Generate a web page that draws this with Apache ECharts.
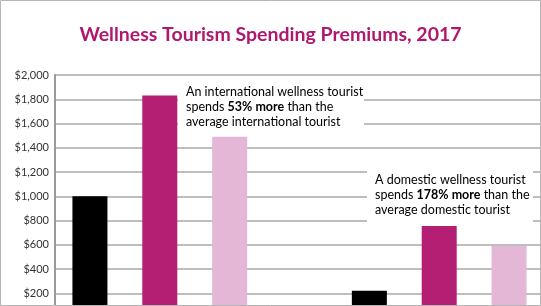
<!DOCTYPE html>
<html>
<head>
<meta charset="utf-8">
<script src="https://cdn.jsdelivr.net/npm/echarts@6/dist/echarts.min.js"></script>
<style>
html,body{margin:0;padding:0;background:#fff;}
#main{width:541px;height:306px;}
</style>
</head>
<body>
<div id="main"></div>
<script>
// Slots along the x axis (an empty slot separates the two groups)
const categories = ['Intl average', 'Intl wellness A', 'Intl wellness B', '', 'Domestic average', 'Domestic wellness A', 'Domestic wellness B'];
const averageTourist   = [1000, '-', '-', '-', 220, '-', '-'];
const wellnessTouristA = ['-', 1830, '-', '-', '-', 780, '-'];
const wellnessTouristB = ['-', '-', 1490, '-', '-', '-', 590];
const yTicks = [0, 200, 400, 600, 800, 1000, 1200, 1400, 1600, 1800, 2000];
const titleText = 'Wellness Tourism Spending Premiums, 2017';
const note1 = ['An international wellness tourist', ['spends ', '53% more', ' than the'], 'average international tourist'];
const note2 = ['A domestic wellness tourist', ['spends ', '178% more', ' than the'], 'average domestic tourist'];

const FONT = 'Lato';
function noteText(n) {
  return '{r|' + n[0] + '}\n{r|' + n[1][0] + '}{b|' + n[1][1] + '}{r|' + n[1][2] + '}\n{r|' + n[2] + '}';
}
const rich = {
  r: {fontFamily: FONT, fontSize: 12.5, color: '#222', lineHeight: 15},
  b: {fontFamily: FONT, fontSize: 12.5, fontWeight: 'bold', color: '#111', lineHeight: 15}
};

const chart = echarts.init(document.getElementById('main'), null, {renderer: 'canvas'});
chart.setOption({
  animation: false,
  title: {
    text: titleText, left: 'center', top: 20,
    textStyle: {fontFamily: FONT, fontSize: 19.5, fontWeight: 'bold', color: '#b0186e'}
  },
  grid: {left: 55, top: 75, width: 489, height: 242.5, containLabel: false, outerBoundsMode: 'none'},
  xAxis: {
    type: 'category', data: categories,
    axisLine: {show: false}, axisTick: {show: false}, axisLabel: {show: false}
  },
  yAxis: {
    type: 'value', min: yTicks[0], max: yTicks[yTicks.length - 1], interval: 200,
    axisLine: {show: true, lineStyle: {color: '#9a9a9a', width: 2}},
    axisTick: {show: false},
    axisLabel: {
      margin: 6, fontFamily: FONT, fontSize: 11, color: '#333',
      formatter: v => '$' + v.toLocaleString('en-US')
    },
    splitLine: {show: true, lineStyle: {color: '#a8a8a8', width: 1.5}}
  },
  series: [
    {name: 'Average tourist', type: 'bar', data: averageTourist, barWidth: 35, barGap: '-100%', itemStyle: {color: '#000'}},
    {name: 'Wellness tourist A', type: 'bar', data: wellnessTouristA, barWidth: 35, barGap: '-100%', itemStyle: {color: '#b41e73'}},
    {name: 'Wellness tourist B', type: 'bar', data: wellnessTouristB, barWidth: 35, barGap: '-100%', itemStyle: {color: '#e4b7d7'}}
  ],
  graphic: [
    {type: 'rect', z: 100, shape: {x: 178, y: 80, width: 186, height: 54}, style: {fill: '#fff'}},
    {type: 'text', z: 101, x: 186, y: 84, style: {text: noteText(note1), rich: rich}},
    {type: 'rect', z: 100, shape: {x: 367, y: 164, width: 166, height: 62}, style: {fill: '#fff'}},
    {type: 'text', z: 101, x: 375, y: 172, style: {text: noteText(note2), rich: rich}},
    {type: 'rect', z: 200, silent: true, shape: {x: 0.5, y: 0.5, width: 540, height: 305}, style: {fill: 'none', stroke: '#b5b5b5', lineWidth: 1}}
  ]
});
</script>
</body>
</html>
